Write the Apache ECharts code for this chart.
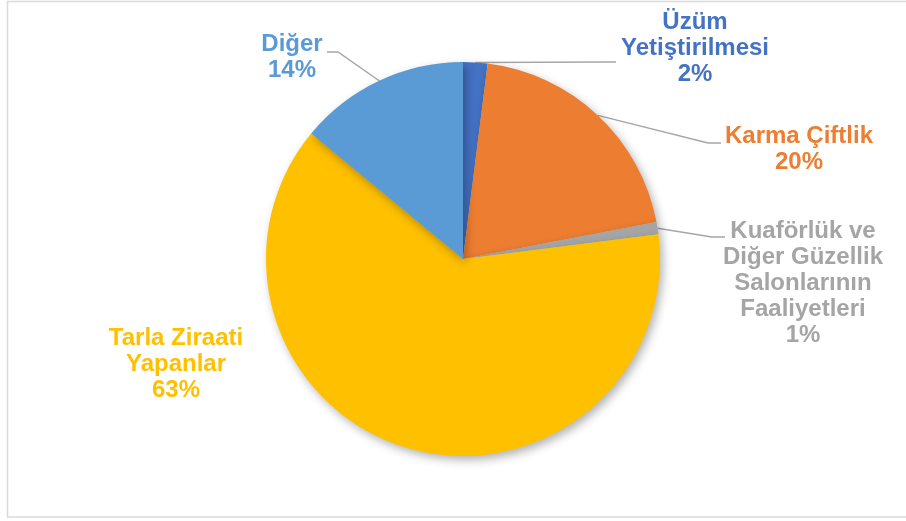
<!DOCTYPE html>
<html>
<head>
<meta charset="utf-8">
<script src="https://cdn.jsdelivr.net/npm/echarts@6/dist/echarts.min.js"></script>
<style>
html,body{margin:0;padding:0;background:#fff;}
#chart{width:906px;height:521px;}
</style>
</head>
<body>
<div id="chart"></div>
<script>
const categories = ["Üzüm\nYetiştirilmesi", "Karma Çiftlik", "Kuaförlük ve\nDiğer Güzellik\nSalonlarının\nFaaliyetleri", "Tarla Ziraati\nYapanlar", "Diğer"];
const values = [2, 20, 1, 63, 14];
const colors = ["#4472C4", "#ED7D31", "#A5A5A5", "#FFC000", "#5B9BD5"];
const labelPos = [[695, 48], [799, 149], [803, 283], [176, 364], [292, 57]];
// bend / end points of the leader lines (label placement, not data)
const leaderEnds = [[[610, 62], [616, 62]], [[708, 143], [721, 143]], [[712, 237], [725, 237]], null, [[338, 52], [327, 52]]];

const chart = echarts.init(document.getElementById('chart'), null, {renderer: 'canvas'});
chart.setOption({
  animation: false,
  backgroundColor: '#fff',
  graphic: [{
    type: 'rect',
    shape: {x: 7.5, y: 1.5, width: 920, height: 515.5},
    style: {fill: 'none', stroke: '#d9d9d9', lineWidth: 1.5},
    silent: true
  }],
  series: [{
    type: 'pie',
    center: [463, 259],
    radius: 197,
    startAngle: 90,
    clockwise: true,
    avoidLabelOverlap: false,
    data: categories.map((c, i) => ({
      name: c, value: values[i],
      itemStyle: {color: colors[i]},
      label: {color: colors[i]},
      labelLine: {show: i !== 3}
    })),
    itemStyle: {
      shadowBlur: 10, shadowOffsetX: 3, shadowOffsetY: 4, shadowColor: 'rgba(0,0,0,0.3)'
    },
    label: {
      show: true,
      formatter: '{b}\n{c}%',
      fontFamily: 'Liberation Sans, Arial, sans-serif',
      fontWeight: 'bold',
      fontSize: 24,
      lineHeight: 26,
      align: 'center'
    },
    labelLine: {
      show: true, length: 15, length2: 10,
      lineStyle: {color: '#a6a6a6', width: 1.5}
    },
    labelLayout: function (p) {
      const pos = labelPos[p.dataIndex];
      const res = {x: pos[0], y: pos[1], align: 'center', verticalAlign: 'middle'};
      const ends = leaderEnds[p.dataIndex];
      if (ends && p.labelLinePoints && p.labelLinePoints.length) {
        res.labelLinePoints = [p.labelLinePoints[0], ends[0], ends[1]];
      }
      return res;
    }
  }]
});
</script>
</body>
</html>
